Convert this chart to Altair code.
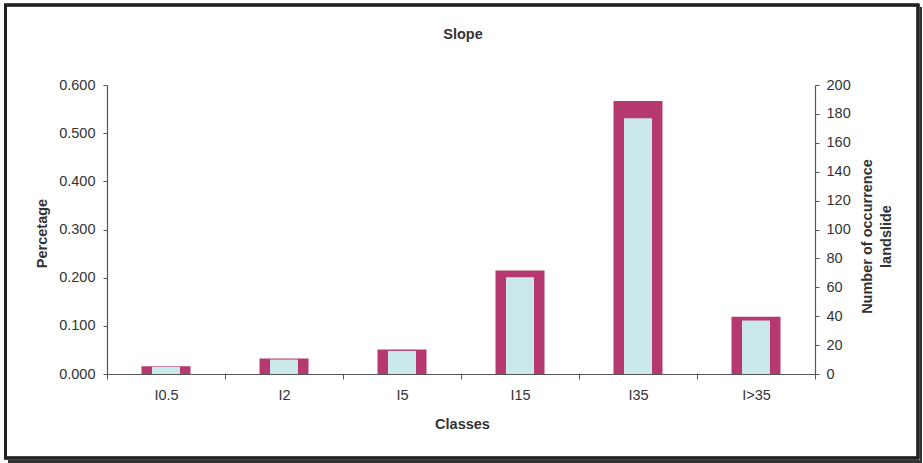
import altair as alt
import pandas as pd

# Slope classes with landslide share and landslide count per class
classes = ["I0.5", "I2", "I5", "I15", "I35", "I>35"]
percentage = [0.016, 0.032, 0.051, 0.215, 0.567, 0.119]
occurrences = [5, 10, 16, 67, 177, 37]

df = pd.DataFrame({"cls": classes, "pct": percentage, "count": occurrences})

W, H = 708, 289
PAD = {"left": 107, "top": 85, "right": 108, "bottom": 89}
FONT = "Liberation Sans"
TEXT = "#333333"
AXIS = "#555555"
FS = 14.5

x_enc = alt.X(
    "cls:N",
    sort=classes,
    scale=alt.Scale(paddingInner=0, paddingOuter=0),
    axis=alt.Axis(
        title="Classes",
        labelAngle=0,
        tickBand="extent",
        tickSize=5,
        labelPadding=9,
        titleX=355,
        titleY=50,
        titleBaseline="middle",
    ),
)

pct_bars = alt.Chart(df).mark_bar(size=49, color="#b5396e").encode(
    x=x_enc,
    y=alt.Y(
        "pct:Q",
        scale=alt.Scale(domain=[0, 0.6], nice=False),
        axis=alt.Axis(
            title="Percetage",
            orient="left",
            values=[0, 0.1, 0.2, 0.3, 0.4, 0.5, 0.6],
            format=".3f",
            tickSize=4,
            labelPadding=8,
            titleAngle=270,
            titleX=-65,
            titleY=148,
            titleBaseline="middle",
        ),
    ),
)

count_bars = alt.Chart(df).mark_bar(size=28, color="#cae8ea").encode(
    x=alt.X("cls:N", sort=classes),
    y=alt.Y(
        "count:Q",
        scale=alt.Scale(domain=[0, 200], nice=False),
        axis=alt.Axis(
            title=["Number of occurrence", "landslide"],
            orient="right",
            values=list(range(0, 201, 20)),
            tickSize=4,
            labelPadding=7,
            titleAngle=270,
            titleX=52,
            titleY=151,
            titleBaseline="middle",
            titleLineHeight=19,
        ),
    ),
)

# Chart heading, centred above the plot
heading = alt.Chart(pd.DataFrame({"t": ["Slope"]})).mark_text(
    font=FONT, fontSize=FS, fontWeight="bold", color=TEXT, baseline="middle", align="center"
).encode(text="t:N", x=alt.value(356), y=alt.value(-50))

# Frame around the whole figure, with a shadow edge on the right and bottom
frame = alt.Chart(df).mark_rect(fill=None, stroke="#222222", strokeWidth=2.5).encode(
    x=alt.value(-101.5), x2=alt.value(811), y=alt.value(-80), y2=alt.value(373)
)
shadow_r = alt.Chart(df).mark_rule(stroke="#333333", strokeWidth=2).encode(
    x=alt.value(814), y=alt.value(-78), y2=alt.value(377)
)
shadow_b = alt.Chart(df).mark_rule(stroke="#333333", strokeWidth=2).encode(
    x=alt.value(-99), x2=alt.value(815), y=alt.value(376.5)
)

chart = (
    alt.layer(pct_bars, count_bars, heading, frame, shadow_r, shadow_b)
    .resolve_scale(y="independent")
    .properties(
        width=W,
        height=H,
        padding=PAD,
        autosize=alt.AutoSizeParams(type="none"),
        background="white",
    )
    .configure_view(stroke=None)
    .configure_axis(
        grid=False,
        labelFont=FONT,
        labelFontSize=FS,
        labelColor=TEXT,
        titleFont=FONT,
        titleFontSize=FS,
        titleColor=TEXT,
        titleFontWeight="bold",
        domainColor=AXIS,
        tickColor=AXIS,
        domainWidth=1.2,
    )
)

chart.save("out.html", embed_options={"renderer": "svg", "actions": False})
